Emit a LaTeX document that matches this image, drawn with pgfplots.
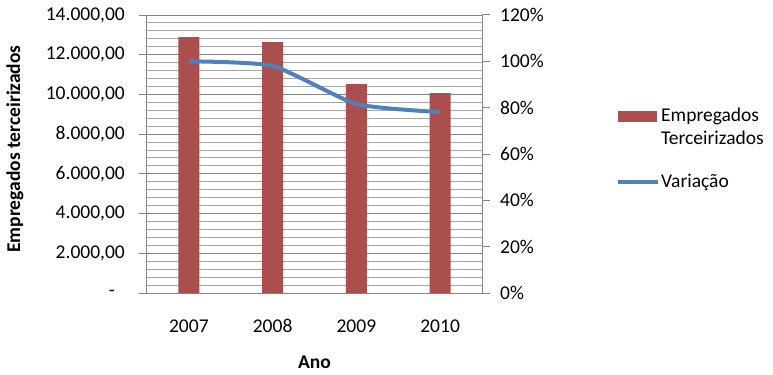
\documentclass[border=0pt]{standalone}
\usepackage{fontspec}
\setmainfont{Carlito}
\usepackage{pgfplots}
\pgfplotsset{compat=1.18}
\definecolor{barred}{HTML}{AA4F4D}
\definecolor{lineblue}{HTML}{4F81BD}
\definecolor{axgray}{HTML}{868686}
\definecolor{mingray}{HTML}{A6A6A6}
\begin{document}
\fontsize{19.5}{23}\selectfont
\begin{tikzpicture}[x=1pt,y=1pt]
\path (0,0) rectangle (773,371);
\begin{axis}[at={(147pt,78pt)}, anchor=south west, scale only axis,
  width=335pt, height=278pt,
  xmin=-0.5, xmax=3.5, ymin=0, ymax=14000,
  scaled y ticks=false,
  xtick={0,1,2,3}, xticklabels={2007,2008,2009,2010},
  x tick style={draw=none},
  ytick={0,2000,...,14000},
  yticklabels={{-\rule{10pt}{0pt}},{2.000,00},{4.000,00},{6.000,00},{8.000,00},{10.000,00},{12.000,00},{14.000,00}},
  minor y tick num=4,
  ymajorgrids, yminorgrids,
  major grid style={axgray, line width=1pt},
  minor grid style={mingray, line width=1pt},
  axis y line*=left, axis x line*=bottom,
  axis line style={axgray, line width=1pt, -},
  tick align=outside, major tick length=8pt, minor tick length=0pt,
  y tick style={axgray, line width=1pt},
  yticklabel style={inner sep=0pt, xshift=-14pt, font=\fontsize{19.5}{23}\selectfont},
  xticklabel style={inner sep=0pt, text height=13pt, text depth=0pt, yshift=-18pt, font=\fontsize{19.5}{23}\selectfont},
  ylabel={\bfseries Empregados terceirizados},
  ylabel style={at={(axis description cs:-0.394,0.518)}, anchor=center},
  xlabel={\bfseries Ano},
  xlabel style={at={(axis description cs:0.5,-0.248)}, anchor=center},
  label style={font=\fontsize{19.5}{23}\selectfont},
]
\addplot[ybar, bar width=21pt, fill=barred, draw=none] coordinates {(0,12892) (1,12640) (2,10525) (3,10072)};
\end{axis}
\begin{axis}[at={(147pt,78pt)}, anchor=south west, scale only axis,
  width=335pt, height=278pt,
  xmin=-0.5, xmax=3.5, ymin=0, ymax=120,
  axis x line=none, axis y line*=right,
  axis line style={axgray, line width=1pt, -},
  ytick={0,20,...,120},
  yticklabels={0\%,20\%,40\%,60\%,80\%,100\%,120\%},
  minor y tick num=4,
  tick align=outside, major tick length=8pt, minor tick length=0pt,
  y tick style={axgray, line width=1pt},
  yticklabel style={inner sep=0pt, xshift=10pt, font=\fontsize{19.5}{23}\selectfont},
  legend style={at={(axis description cs:1.391,0.676)}, anchor=north west,
    draw=none, fill=none, row sep=24pt, font=\fontsize{19.5}{23}\selectfont,
    nodes={align=left, inner sep=1pt}},
  legend cell align=left,
]
\addlegendimage{legend image code/.code={\fill[barred] (0pt,6.5pt) rectangle (38pt,16.5pt);}}
\addlegendentry{Empregados\\Terceirizados}
\addplot[lineblue, line width=4pt, smooth, tension=0.35,
  legend image code/.code={\draw[lineblue, line width=4pt] (0pt,0pt) -- (40pt,0pt);}]
  coordinates {(0,100) (1,98.0) (2,81.6) (3,78.1)};
\addlegendentry{Variação}
\end{axis}
\end{tikzpicture}
\end{document}
